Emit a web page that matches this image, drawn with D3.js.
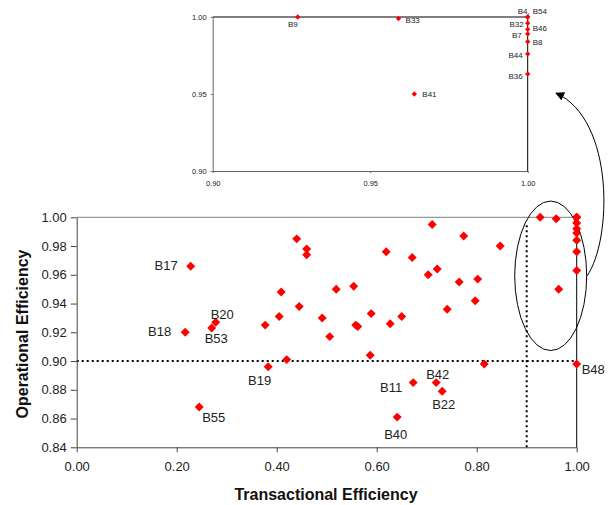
<!DOCTYPE html>
<html>
<head>
<meta charset="utf-8">
<script src="https://cdn.jsdelivr.net/npm/d3@7"></script>
<style>
  body { margin: 0; background: #fff; }
  text { font-family: "Liberation Sans", Arial, sans-serif; }
</style>
</head>
<body>
<svg id="plot"></svg>
<script>
// Data: transactional vs operational efficiency per unit ("" = unlabelled unit)
const unitNames = [
    "B17", "B18", "B53", "B20", "B55", "B19", "B11", "B42", "B22", "B40", "B48",
    "B9", "B33", "B41", "B4", "B54", "B32", "B46", "B7", "B8", "B44", "B36",
    "", "", "", "", "", "", "", "", "", "", "", "", "", "", "",
    "", "", "", "", "", "", "", "", "", "", "", "", "", "", ""
];
const transEff = [
    0.228, 0.217, 0.270, 0.278, 0.245, 0.383, 0.673, 0.719, 0.731, 0.641, 1.000,
    0.927, 0.959, 0.964, 1.000, 1.000, 1.000, 1.000, 1.000, 1.000, 1.000, 1.000,
    0.420, 0.377, 0.405, 0.409, 0.440, 0.460, 0.460, 0.445, 0.491, 0.519, 0.506, 0.554, 0.589, 0.558, 0.562,
    0.627, 0.650, 0.619, 0.671, 0.711, 0.774, 0.847, 0.703, 0.721, 0.765, 0.802, 0.797, 0.741, 0.587, 0.815
];
const operEff = [
    0.966, 0.920, 0.923, 0.927, 0.868, 0.896, 0.885, 0.885, 0.879, 0.861, 0.898,
    1.000, 0.999, 0.950, 1.000, 1.000, 0.996, 0.992, 0.989, 0.984, 0.976, 0.963,
    0.901, 0.925, 0.931, 0.948, 0.985, 0.978, 0.974, 0.938, 0.930, 0.950, 0.917, 0.952, 0.933, 0.925, 0.924,
    0.926, 0.931, 0.976, 0.972, 0.995, 0.987, 0.980, 0.960, 0.964, 0.955, 0.957, 0.942, 0.936, 0.904, 0.898
];
const mainLabelled = ["B17", "B18", "B20", "B53", "B55", "B19", "B11", "B42", "B22", "B40", "B48"];
const mainXTicks = [0, 0.2, 0.4, 0.6, 0.8, 1.0];
const mainYTicks = [0.84, 0.86, 0.88, 0.90, 0.92, 0.94, 0.96, 0.98, 1.00];
const insetTicks = [0.90, 0.95, 1.00];
const cutoff = 0.90;

// label placement (pixels relative to the marker)
const mainLabelPos = {
    B17: { dx: -13, dy: 4, anchor: 'end' },
    B18: { dx: -14, dy: 4, anchor: 'end' },
    B20: { dx: -5, dy: -3, anchor: 'start' },
    B53: { dx: -7, dy: 15, anchor: 'start' },
    B55: { dx: 3, dy: 15, anchor: 'start' },
    B19: { dx: 3, dy: 18, anchor: 'end' },
    B11: { dx: -11, dy: 9, anchor: 'end' },
    B42: { dx: -10, dy: -4, anchor: 'start' },
    B22: { dx: -10, dy: 18, anchor: 'start' },
    B40: { dx: -13, dy: 22, anchor: 'start' },
    B48: { dx: 5, dy: 10, anchor: 'start' }
};
const insetLabelPos = {
    B9: { dx: 0, dy: 10, anchor: 'end' },
    B33: { dx: 7, dy: 4, anchor: 'start' },
    B41: { dx: 8, dy: 3, anchor: 'start' },
    B4: { dx: -10, dy: -3, anchor: 'start', suffix: ',' },
    B54: { dx: 5, dy: -3, anchor: 'start' },
    B32: { dx: -4, dy: 4, anchor: 'end' },
    B46: { dx: 5, dy: 2, anchor: 'start' },
    B7: { dx: -6, dy: 4, anchor: 'end' },
    B8: { dx: 5, dy: 3, anchor: 'start' },
    B44: { dx: -5, dy: 4, anchor: 'end' },
    B36: { dx: -5, dy: 5, anchor: 'end' }
};

const data = unitNames.map((n, i) => ({ name: n, te: transEff[i], oe: operEff[i] }));

let width = 612;
let height = 505;

let svg = d3.select('#plot')
    .attr('width', width)
    .attr('height', height);

const diamond = size => d3.symbol().type(d3.symbolSquare).size(size);

// ---------- main chart ----------
let x = d3.scaleLinear().domain([0, 1]).range([76.7, 576.7]);
let y = d3.scaleLinear().domain([0.84, 1]).range([447.3, 217.3]);

let main = svg.append('g');

// frame: top grey, right black
main.append('line')
    .attr('x1', x(0)).attr('x2', x(1))
    .attr('y1', y(1)).attr('y2', y(1))
    .attr('stroke', '#808080');
main.append('line')
    .attr('x1', x(1)).attr('x2', x(1))
    .attr('y1', y(1)).attr('y2', y(0.84))
    .attr('stroke', '#000');

// cut-off lines
main.append('line')
    .attr('x1', x(0)).attr('x2', x(1))
    .attr('y1', y(cutoff)).attr('y2', y(cutoff))
    .attr('stroke', '#000').attr('stroke-width', 2)
    .attr('stroke-dasharray', '2,3');
main.append('line')
    .attr('x1', x(cutoff)).attr('x2', x(cutoff))
    .attr('y1', y(0.84)).attr('y2', y(0.995))
    .attr('stroke', '#000').attr('stroke-width', 2)
    .attr('stroke-dasharray', '2,3');

let xAxis = main.append('g')
    .attr('transform', `translate(0, ${y(0.84)})`)
    .call(d3.axisBottom(x).tickValues(mainXTicks).tickFormat(d3.format('.2f'))
        .tickSize(5).tickPadding(9).tickSizeOuter(0));
let yAxis = main.append('g')
    .attr('transform', `translate(${x(0)}, 0)`)
    .call(d3.axisLeft(y).tickValues(mainYTicks).tickFormat(d3.format('.2f'))
        .tickSize(6).tickPadding(4).tickSizeOuter(0));
[xAxis, yAxis].forEach(a => {
    a.select('.domain').attr('stroke', '#444');
    a.selectAll('.tick line').attr('stroke', '#444');
    a.selectAll('text').attr('font-size', 13).attr('fill', '#222')
        .style('font-family', '"Liberation Sans", Arial, sans-serif');
});

// ellipse around the efficient group
main.append('ellipse')
    .attr('cx', x(0.948))
    .attr('cy', y(0.9593))
    .attr('rx', x(0.072) - x(0))
    .attr('ry', y(0.9593) - y(1.0113))
    .attr('fill', 'none')
    .attr('stroke', '#000');

main.selectAll('.dot')
    .data(data)
    .enter()
    .append('path')
    .attr('class', 'dot')
    .attr('d', diamond(40))
    .attr('transform', d => `translate(${x(d.te)}, ${y(d.oe)}) rotate(45)`)
    .attr('fill', '#ff0000');

main.selectAll('.lbl')
    .data(data.filter(d => mainLabelled.includes(d.name)))
    .enter()
    .append('text')
    .attr('class', 'lbl')
    .attr('x', d => x(d.te) + mainLabelPos[d.name].dx)
    .attr('y', d => y(d.oe) + mainLabelPos[d.name].dy)
    .attr('text-anchor', d => mainLabelPos[d.name].anchor)
    .attr('font-size', 13)
    .attr('fill', '#222')
    .text(d => d.name);

// axis titles
svg.append('text')
    .attr('x', 326)
    .attr('y', 500)
    .attr('text-anchor', 'middle')
    .attr('font-size', 16)
    .attr('font-weight', 'bold')
    .attr('fill', '#111')
    .text('Transactional Efficiency');
svg.append('text')
    .attr('transform', 'translate(28.3, 334) rotate(-90)')
    .attr('text-anchor', 'middle')
    .attr('font-size', 16)
    .attr('font-weight', 'bold')
    .attr('fill', '#111')
    .text('Operational Efficiency');

// ---------- inset chart ----------
let ix = d3.scaleLinear().domain([0.9, 1]).range([212.7, 527.7]);
let iy = d3.scaleLinear().domain([0.9, 1]).range([171, 17]);
let inset = svg.append('g');

inset.append('line')
    .attr('x1', ix(0.9)).attr('x2', ix(1))
    .attr('y1', iy(1)).attr('y2', iy(1))
    .attr('stroke', '#000');
inset.append('line')
    .attr('x1', ix(1)).attr('x2', ix(1))
    .attr('y1', iy(1)).attr('y2', iy(0.9))
    .attr('stroke', '#000');

let ixAxis = inset.append('g')
    .attr('transform', `translate(0, ${iy(0.9)})`)
    .call(d3.axisBottom(ix).tickValues(insetTicks).tickFormat(d3.format('.2f'))
        .tickSize(2).tickPadding(8).tickSizeOuter(0));
let iyAxis = inset.append('g')
    .attr('transform', `translate(${ix(0.9)}, 0)`)
    .call(d3.axisLeft(iy).tickValues(insetTicks).tickFormat(d3.format('.2f'))
        .tickSize(2).tickPadding(4).tickSizeOuter(0));
[ixAxis, iyAxis].forEach(a => {
    a.select('.domain').attr('stroke', '#666');
    a.selectAll('.tick line').attr('stroke', '#666');
    a.selectAll('text').attr('font-size', 7.5).attr('fill', '#222')
        .style('font-family', '"Liberation Sans", Arial, sans-serif');
});

let insetData = data.filter(d => d.te >= 0.9 && d.oe >= 0.9);

inset.selectAll('.idot')
    .data(insetData)
    .enter()
    .append('path')
    .attr('class', 'idot')
    .attr('d', diamond(14))
    .attr('transform', d => `translate(${ix(d.te)}, ${iy(d.oe)}) rotate(45)`)
    .attr('fill', '#ff0000');

inset.selectAll('.ilbl')
    .data(insetData.filter(d => insetLabelPos[d.name]))
    .enter()
    .append('text')
    .attr('class', 'ilbl')
    .attr('x', d => ix(d.te) + insetLabelPos[d.name].dx)
    .attr('y', d => iy(d.oe) + insetLabelPos[d.name].dy)
    .attr('text-anchor', d => insetLabelPos[d.name].anchor)
    .attr('font-size', 8)
    .attr('fill', '#222')
    .text(d => d.name + (insetLabelPos[d.name].suffix || ''));

// curved arrow from the ellipse up to the inset
svg.append('defs').append('marker')
    .attr('id', 'arrow')
    .attr('viewBox', '0 0 10 10')
    .attr('refX', 9).attr('refY', 5)
    .attr('markerWidth', 9).attr('markerHeight', 9)
    .attr('markerUnits', 'userSpaceOnUse')
    .attr('orient', 'auto')
    .append('path')
    .attr('d', 'M0,0 L10,5 L0,10 Z')
    .attr('fill', '#000');

svg.append('path')
    .attr('d', 'M587,276 C612,240 615,120 556,93')
    .attr('fill', 'none')
    .attr('stroke', '#000')
    .attr('marker-end', 'url(#arrow)');
</script>
</body>
</html>
